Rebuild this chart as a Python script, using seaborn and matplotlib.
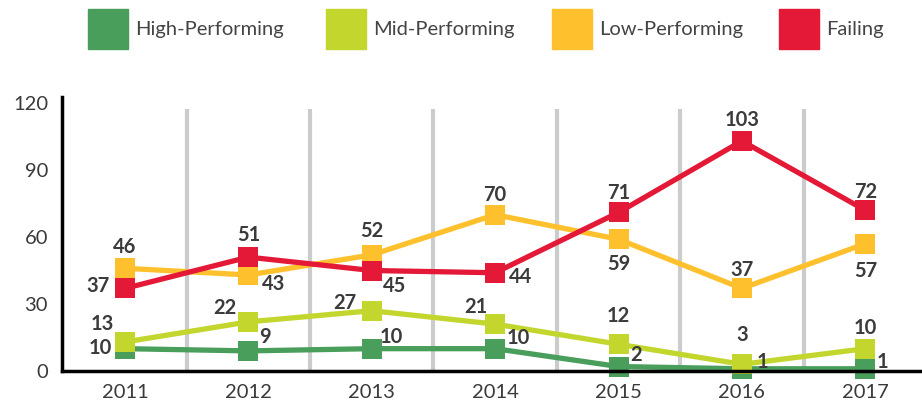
import pandas as pd
import seaborn as sns
import matplotlib.pyplot as plt
from matplotlib.patches import Rectangle

# data
years = ["2011", "2012", "2013", "2014", "2015", "2016", "2017"]
high_performing = [10, 9, 10, 10, 2, 1, 1]
mid_performing = [13, 22, 27, 21, 12, 3, 10]
low_performing = [46, 43, 52, 70, 59, 37, 57]
failing = [37, 51, 45, 44, 71, 103, 72]
y_ticks = [0, 30, 60, 90, 120]

series_names = ["High-Performing", "Mid-Performing", "Low-Performing", "Failing"]
series_values = [high_performing, mid_performing, low_performing, failing]
colors = ["#4a9e5c", "#c2d62e", "#fec12d", "#e31937"]

# label offsets in pixels (dx, dy with y going down, like the image)
label_offsets = [
    [(-25, -1), (17, -14), (20, -12), (23, -11), (18, -12), (21, -7), (17, -7)],
    [(-23, -18), (-24, -14), (-27, -8), (-19, -17), (0, -28), (0, -29), (0, -21)],
    [(0, -21), (25, 9), (0, -24), (0, -20), (0, 25), (0, -18), (0, 27)],
    [(-27, -2), (0, -22), (23, 15), (25, 4), (0, -19), (0, -21), (0, -18)],
]

# long form dataframe for seaborn
rows = []
for name, vals in zip(series_names, series_values):
    for i, v in enumerate(vals):
        rows.append({"pos": i, "year": years[i], "status": name, "count": v})
df = pd.DataFrame(rows)

sns.set_style("white")
plt.rcParams["font.family"] = ["Lato", "DejaVu Sans"]

W, H = 922, 404
fig = plt.figure(figsize=(W / 100, H / 100), dpi=100)
ax = fig.add_axes([62 / W, 1 - 371 / H, 1 - 62 / W, (371 - 97) / H])

# vertical separators between years
ax.vlines([i + 0.5 for i in range(len(years) - 1)], 0, 117.3,
          color="#cccccc", lw=3, zorder=0)

sns.lineplot(data=df, x="pos", y="count", hue="status", hue_order=series_names,
             palette=colors, style="status", markers=["s"] * 4, dashes=False,
             markersize=14, markeredgewidth=0, lw=3.8, legend=False, ax=ax,
             clip_on=False)

# data labels
for vals, offs in zip(series_values, label_offsets):
    for i, (v, (dx, dy)) in enumerate(zip(vals, offs)):
        ax.annotate(str(v), (i, v), xytext=(dx, -dy), textcoords="offset pixels",
                    ha="center", va="center", fontsize=14.5, fontweight="bold",
                    color="#3b3b3b", zorder=5)

ax.set_xlim(-0.511, 6.46)
ax.set_ylim(0, 122.7)
ax.set_xticks(range(len(years)))
ax.set_xticklabels(years)
ax.set_yticks(y_ticks)
ax.tick_params(axis="both", length=0, labelsize=14.5, labelcolor="#3a3a3a")
ax.tick_params(axis="y", pad=10)
ax.tick_params(axis="x", pad=9)
ax.set_xlabel("")
ax.set_ylabel("")
for s in ["top", "right"]:
    ax.spines[s].set_visible(False)
for s in ["left", "bottom"]:
    ax.spines[s].set_color("black")
    ax.spines[s].set_linewidth(2.5)

# legend drawn by hand across the top
legend_x = [88, 326, 552, 779]
for x, name, c in zip(legend_x, series_names, colors):
    fig.add_artist(Rectangle((x / W, 1 - 49 / H), 40 / W, 40 / H,
                             transform=fig.transFigure, color=c))
    fig.text((x + 47) / W, 1 - 30 / H, name, ha="left", va="center",
             fontsize=14.5, color="#444444")

fig.savefig("out.png", dpi=100)
